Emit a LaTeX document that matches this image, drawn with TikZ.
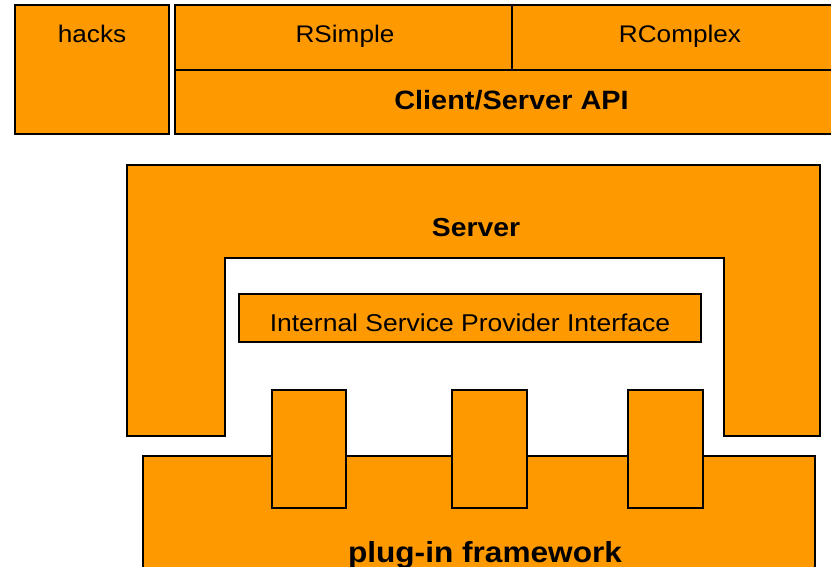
\documentclass[tikz,border=0pt]{standalone}
\usepackage{fontspec}
\setmainfont{Liberation Sans}[FakeStretch=1.09]
\definecolor{boxorange}{HTML}{FF9900}
\tikzset{
  block/.style={fill=boxorange, draw=black, line width=2pt},
  lbl/.style={anchor=base, inner sep=0pt, font=\fontsize{24}{28}\selectfont},
  blbl/.style={anchor=base, inner sep=0pt, font=\fontsize{26}{30}\selectfont\bfseries},
  biglbl/.style={anchor=base, inner sep=0pt, font=\fontsize{29}{34}\selectfont\bfseries}
}
\begin{document}
\begin{tikzpicture}[x=1pt, y=-1pt]
\useasboundingbox (0,0) rectangle (831,566);
\clip (0,0) rectangle (831,566);

% client side: hacks and the API stack
\path[block] (15,5) rectangle (169,134);
\path[block] (175,5) rectangle (848,134);
\draw[line width=2pt] (175,70) -- (848,70);
\draw[line width=2pt] (512,5) -- (512,70);
\node[lbl]  (hacks)   at (92,42)    {hacks};
\node[lbl]  (rsimple) at (345,42) {RSimple};
\node[lbl]  (rcomplex) at (680,42)  {RComplex};
\node[blbl, font=\fontsize{26.5}{30}\selectfont\bfseries] (api) at (511.5,109) {Client/Server API};

% server, open at the bottom
\path[block] (127,165) -- (820,165) -- (820,436) -- (724,436) -- (724,258)
  -- (225,258) -- (225,436) -- (127,436) -- cycle;
\node[blbl] (server) at (476,236) {Server};

% internal service provider interface
\path[block] (239,294) rectangle (701,342);
\node[lbl, font=\fontsize{24.3}{28}\selectfont] (spi) at (470,331) {Internal Service Provider Interface};

% plug-in framework with its three plug-ins
\path[block] (143,456) rectangle (815,600);
\path[block] (272,390) rectangle (346,508);
\path[block] (452,390) rectangle (527,508);
\path[block] (628,390) rectangle (703,508);
\node[biglbl] (framework) at (485,562) {plug-in framework};
\end{tikzpicture}
\end{document}
